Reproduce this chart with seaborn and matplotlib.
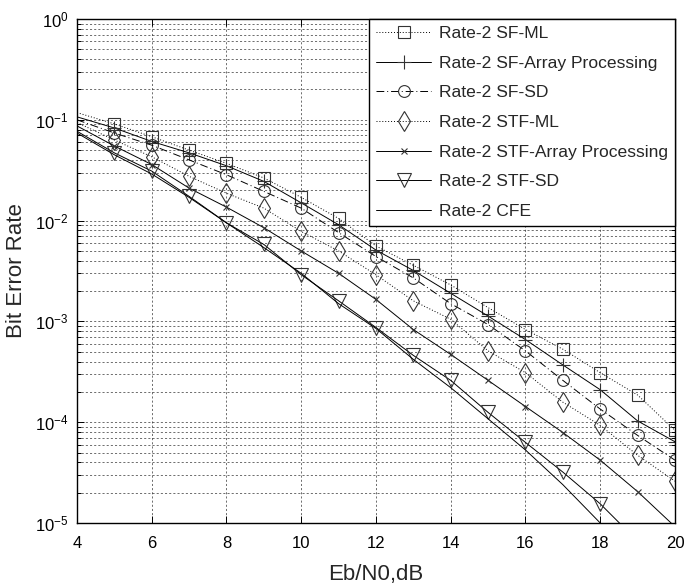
import numpy as np
import pandas as pd
import matplotlib
matplotlib.use("Agg")
import matplotlib.pyplot as plt
from matplotlib.ticker import LogLocator, FixedLocator, NullFormatter
import seaborn as sns

# Eb/N0 sweep (dB)
ebn0 = [4, 5, 6, 7, 8, 9, 10, 11, 12, 13, 14, 15, 16, 17, 18, 19, 20]

# Bit error rate for each receiver
sf_ml = [0.118, 0.091, 0.068, 0.050, 0.037, 0.0265, 0.017, 0.0105, 0.0056,
         0.0036, 0.0023, 0.00137, 0.00083, 0.00053, 0.00031, 0.000186, 8.3e-5]
sf_ap = [0.107, 0.083, 0.061, 0.047, 0.035, 0.0245, 0.015, 0.0091, 0.0051,
         0.0032, 0.0019, 0.00113, 0.00066, 0.00037, 0.00021, 0.000103, 6.4e-5]
sf_sd = [0.100, 0.074, 0.056, 0.040, 0.0285, 0.0195, 0.0133, 0.0076, 0.0044,
         0.0027, 0.0015, 0.00093, 0.00051, 0.00026, 0.000135, 7.4e-5, 4.2e-5]
stf_ml = [0.094, 0.063, 0.043, 0.0275, 0.0187, 0.0133, 0.0078, 0.0050, 0.0029,
          0.0016, 0.00105, 0.00051, 0.00031, 0.000158, 9.3e-5, 4.7e-5, 2.6e-5]
stf_ap = [0.087, 0.055, 0.036, 0.021, 0.0136, 0.0085, 0.0050, 0.0030, 0.00165,
          0.00083, 0.00047, 0.00026, 0.000143, 7.9e-5, 4.2e-5, 2.05e-5, 9.2e-6]
stf_sd = [0.077, 0.047, 0.031, 0.0174, 0.0095, 0.0058, 0.0029, 0.0016, 0.00087,
          0.00046, 0.00026, 0.000125, 6.3e-5, 3.2e-5, 1.55e-5, 6.6e-6, 2.8e-6]
cfe = [0.074, 0.045, 0.029, 0.0170, 0.0095, 0.0054, 0.0030, 0.0015, 0.00085,
       0.00042, 0.00022, 0.000108, 5.3e-5, 2.4e-5, 1.0e-5, 4.3e-6, 1.8e-6]

labels = ["Rate-2 SF-ML", "Rate-2 SF-Array Processing", "Rate-2 SF-SD",
          "Rate-2 STF-ML", "Rate-2 STF-Array Processing", "Rate-2 STF-SD",
          "Rate-2 CFE"]
x_ticks = [4, 6, 8, 10, 12, 14, 16, 18, 20]

sns.set_style("ticks")
plt.rcParams["font.family"] = ["Liberation Sans", "DejaVu Sans"]
plt.rcParams["mathtext.fontset"] = "custom"
plt.rcParams["mathtext.rm"] = "Liberation Sans"
plt.rcParams["mathtext.it"] = "Liberation Sans:italic"
plt.rcParams["mathtext.default"] = "regular"

fig = plt.figure(figsize=(6.85, 5.87), dpi=100)
ax = fig.add_axes([0.1124, 0.109, 0.873, 0.8586])

series = [sf_ml, sf_ap, sf_sd, stf_ml, stf_ap, stf_sd, cfe]
styles = [
    dict(linestyle=(0, (1, 2)), marker="s", markersize=8.5),
    dict(linestyle="-", marker="+", markersize=10),
    dict(linestyle=(0, (8, 3, 1, 3)), marker="o", markersize=8.5),
    dict(linestyle=(0, (1, 2)), marker="d", markersize=10),
    dict(linestyle="-", marker="x", markersize=4.5),
    dict(linestyle="-", marker="v", markersize=10),
    dict(linestyle="-", marker=None),
]
skip_first = list(range(1, len(ebn0)))

for vals, lab, st in zip(series, labels, styles):
    df = pd.DataFrame({"ebn0": ebn0, "ber": vals})
    kw = dict(color="black", linewidth=0.7, label=lab,
              linestyle=st["linestyle"])
    if st["marker"] is not None:
        kw.update(marker=st["marker"], markersize=st["markersize"],
                  markerfacecolor="none", markeredgecolor="#333333",
                  markeredgewidth=0.8, markevery=skip_first)
    sns.lineplot(data=df, x="ebn0", y="ber", ax=ax, **kw)

ax.set_yscale("log")
ax.set_xlim(4, 20)
ax.set_ylim(1e-5, 1)
ax.xaxis.set_major_locator(FixedLocator(x_ticks))
ax.yaxis.set_major_locator(LogLocator(base=10, numticks=10))
ax.yaxis.set_minor_locator(LogLocator(base=10, subs=np.arange(2, 10), numticks=20))
ax.yaxis.set_minor_formatter(NullFormatter())

grid_kw = dict(color="black", linestyle=(0, (3, 3)), linewidth=0.5, alpha=0.8)
ax.grid(True, which="major", axis="both", **grid_kw)
ax.grid(True, which="minor", axis="y", **grid_kw)

ax.tick_params(which="both", direction="in", top=True, right=True,
               labelsize=12, colors="black", width=0.7)
ax.tick_params(which="major", length=5)
ax.tick_params(which="minor", length=3)
ax.tick_params(axis="x", which="major", pad=9)
ax.tick_params(axis="y", which="major", pad=6)
for sp in ax.spines.values():
    sp.set_visible(True)
    sp.set_linewidth(1.0)
    sp.set_color("black")

ax.set_xlabel("Eb/N0,dB", fontsize=16, labelpad=10)
ax.set_ylabel("Bit Error Rate", fontsize=16, labelpad=6)

leg = ax.legend(loc="upper right", fontsize=12.6, frameon=True, fancybox=False,
                edgecolor="black", framealpha=1, borderaxespad=0,
                handlelength=3.15, handletextpad=0.45, labelspacing=0.82,
                borderpad=0.4)
leg.get_frame().set_linewidth(1.0)

fig.savefig("out.png", dpi=100)
